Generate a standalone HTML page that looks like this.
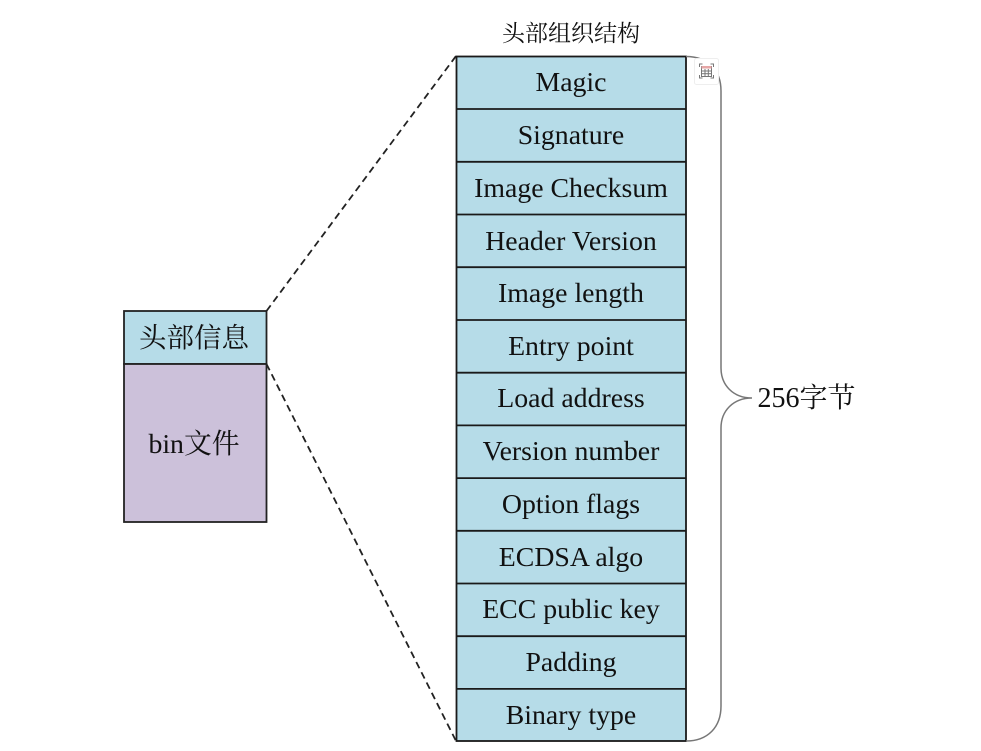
<!DOCTYPE html>
<html><head><meta charset="utf-8"><style>
html,body{margin:0;padding:0;background:#fff}
svg{display:block}
text{font-family:"Liberation Serif","Noto Serif CJK SC",serif;fill:#111;text-anchor:middle}
</style></head><body>
<svg width="981" height="751" viewBox="0 0 981 751" xmlns="http://www.w3.org/2000/svg">
<rect x="124" y="311" width="142.500" height="53" fill="#b6dce8" stroke="#222" stroke-width="1.800"/>
<rect x="124" y="364" width="142.500" height="158" fill="#ccc1da" stroke="#222" stroke-width="1.800"/>
<text x="194" y="347" font-size="27.500">头部信息</text>
<text x="194" y="453" font-size="27.800">bin文件</text>
<line x1="266.500" y1="311" x2="456" y2="56" stroke="#222" stroke-width="1.800" stroke-dasharray="7 4.500"/>
<line x1="266.500" y1="364" x2="456" y2="741" stroke="#222" stroke-width="1.800" stroke-dasharray="7 4.500"/>
<rect x="456.500" y="56.500" width="229.500" height="684.500" fill="#b6dce8" stroke="#1a1a1a" stroke-width="1.800"/>
<g stroke="#1a1a1a" stroke-width="1.800">
<line x1="456" x2="686" y1="109" y2="109"/><line x1="456" x2="686" y1="161.800" y2="161.800"/><line x1="456" x2="686" y1="214.500" y2="214.500"/><line x1="456" x2="686" y1="267.200" y2="267.200"/><line x1="456" x2="686" y1="320" y2="320"/><line x1="456" x2="686" y1="372.700" y2="372.700"/><line x1="456" x2="686" y1="425.400" y2="425.400"/><line x1="456" x2="686" y1="478.100" y2="478.100"/><line x1="456" x2="686" y1="530.800" y2="530.800"/><line x1="456" x2="686" y1="583.500" y2="583.500"/><line x1="456" x2="686" y1="636.200" y2="636.200"/><line x1="456" x2="686" y1="688.900" y2="688.900"/>
</g>
<g font-size="27.800">
<text x="571" y="91">Magic</text>
<text x="571" y="144">Signature</text>
<text x="571" y="197">Image Checksum</text>
<text x="571" y="250">Header Version</text>
<text x="571" y="302">Image length</text>
<text x="571" y="355">Entry point</text>
<text x="571" y="407">Load address</text>
<text x="571" y="460">Version number</text>
<text x="571" y="513">Option flags</text>
<text x="571" y="566">ECDSA algo</text>
<text x="571" y="618">ECC public key</text>
<text x="571" y="671">Padding</text>
<text x="571" y="724">Binary type</text>
</g>
<text x="571" y="41" font-size="23">头部组织结构</text>
<path d="M686 56.500 C708 56.500 721 70 721 91 L721 368 C721 385 733 398 752 398 C733 398 721 411 721 428 L721 706 C721 727 708 741 686 741" fill="none" stroke="#777" stroke-width="1.500"/>
<rect x="694.500" y="58.500" width="24" height="26" rx="2" fill="#fff" stroke="#eee"/>
<g fill="none" stroke="#777" stroke-width="1">
<path d="M699.500 67V64H702.500M710.500 64H713.500V67M699.500 75V78H702.500M710.500 78H713.500V75"/>
<rect x="701.500" y="66.500" width="10" height="10"/>
<line x1="701.500" x2="711.500" y1="71" y2="71"/><line x1="701.500" x2="711.500" y1="73.700" y2="73.700"/>
<line x1="705" x2="705" y1="69" y2="76.500"/><line x1="708.300" x2="708.300" y1="69" y2="76.500"/>
</g>
<rect x="701.500" y="66" width="10" height="2.500" fill="#e6a6a6"/>
<text x="806.500" y="407" font-size="28">256字节</text>
</svg>
</body></html>
